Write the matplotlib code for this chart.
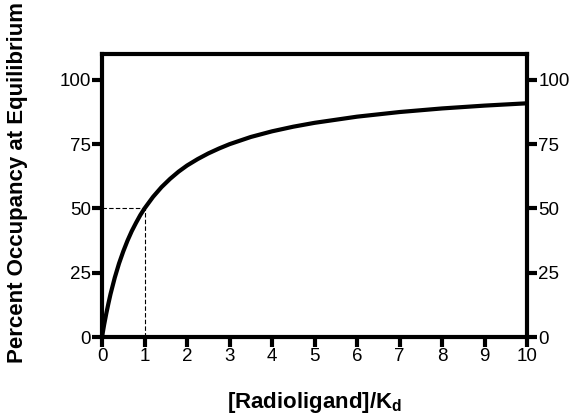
import matplotlib.pyplot as plt

# Werte
ratio = [0, 0.025, 0.05, 0.1, 0.15, 0.2, 0.3, 0.4, 0.5, 0.6, 0.7, 0.8, 0.9, 1,
         1.2, 1.4, 1.6, 1.8, 2, 2.25, 2.5, 2.75, 3, 3.5, 4, 4.5, 5, 6, 7, 8, 9, 10]
occupancy = [0, 2.4, 4.8, 9.1, 13, 16.7, 23.1, 28.6, 33.3, 37.5, 41.2, 44.4, 47.4, 50,
             54.5, 58.3, 61.5, 64.3, 66.7, 69.2, 71.4, 73.3, 75, 77.8, 80, 81.8, 83.3, 85.7, 87.5, 88.9, 90, 90.9]
kd_ratio = 1
half_occupancy = 50
x_ticks = [0, 1, 2, 3, 4, 5, 6, 7, 8, 9, 10]
y_ticks = [0, 25, 50, 75, 100]

plt.rcParams['font.family'] = ['Liberation Sans', 'DejaVu Sans']

fig = plt.figure(figsize=(5.78, 4.2), dpi=100)
ax = fig.add_axes([0.1765, 0.1976, 0.7355, 0.6734])

ax.plot(ratio, occupancy, color='black', lw=3, solid_capstyle='butt', solid_joinstyle='round',
        clip_on=False, zorder=3)
ax.plot([0, kd_ratio], [half_occupancy, half_occupancy], color='black', lw=0.8, ls=(0, (4, 2)))
ax.plot([kd_ratio, kd_ratio], [0, half_occupancy], color='black', lw=0.8, ls=(0, (4, 2)))

ax.set_xlim(0, 10)
ax.set_ylim(0, 110)
ax.set_xticks(x_ticks)
ax.set_yticks(y_ticks)

for s in ax.spines.values():
    s.set_linewidth(3)

ax.tick_params(axis='both', direction='out', length=7, width=3, labelsize=13.5, pad=1)
ax.tick_params(axis='y', left=True, right=True, labelleft=True, labelright=True)

ax.set_xlabel('[Radioligand]/K$_\\mathregular{d}$', fontsize=16, fontweight='bold', labelpad=18)
ax.set_ylabel('Percent Occupancy at Equilibrium', fontsize=16, fontweight='bold')
ax.yaxis.set_label_coords(-0.174, 0.546)

fig.savefig('out.png', dpi=100)
